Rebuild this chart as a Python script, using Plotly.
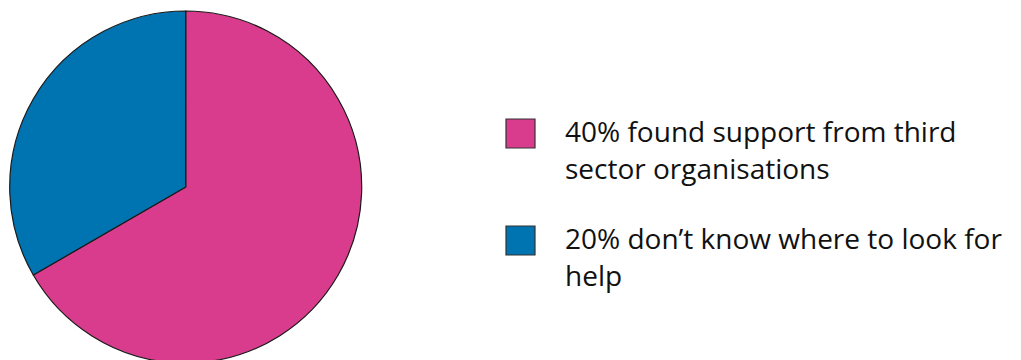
import plotly.graph_objects as go

# Survey shares and their descriptions
shares = [40, 20]
descriptions = [
    "found support from third<br>sector organisations",
    "don\u2019t know where to look for<br>help",
]
colors = ["#D93C8D", "#0073B1"]

W, H = 1021, 374
cx, cy, r = 185.7, 187.0, 176.0

fig = go.Figure(
    go.Pie(
        values=shares,
        labels=[f"{v}% {d}" for v, d in zip(shares, descriptions)],
        marker=dict(colors=colors, line=dict(color="#1a1a1a", width=1.2)),
        sort=False,
        direction="clockwise",
        rotation=0,
        textinfo="none",
        hoverinfo="label",
        domain=dict(x=[(cx - r) / W, (cx + r) / W], y=[0, 1]),
        showlegend=False,
    )
)

# Custom legend: large swatches with wrapped labels
sw_x0, sw_size = 506, 29
entry_tops = [119, 226]
text_x = 564
line_gap = 36.5
font = dict(family="Open Sans", size=28, color="#111111")

shapes, annotations = [], []
for i, (v, d) in enumerate(zip(shares, descriptions)):
    y0 = entry_tops[i]
    shapes.append(dict(
        type="rect", xref="paper", yref="paper",
        x0=sw_x0 / W, x1=(sw_x0 + sw_size) / W,
        y0=1 - y0 / H, y1=1 - (y0 + sw_size) / H,
        fillcolor=colors[i], line=dict(color="#333333", width=1.2),
    ))
    lines = f"{v}% {d}".split("<br>")
    for j, line in enumerate(lines):
        base = y0 + 24 + j * line_gap  # text baseline
        annotations.append(dict(
            x=text_x / W, y=1 - (base + 8) / H, xref="paper", yref="paper",
            xanchor="left", yanchor="bottom", showarrow=False,
            text=line, font=font, borderpad=0,
        ))

fig.update_layout(
    width=W, height=H,
    margin=dict(l=0, r=0, t=0, b=0),
    paper_bgcolor="white", plot_bgcolor="white",
    shapes=shapes, annotations=annotations,
)

fig.write_html(
    "out.html",
    post_script="document.body.style.overflow='hidden';document.documentElement.style.overflow='hidden';",
)
